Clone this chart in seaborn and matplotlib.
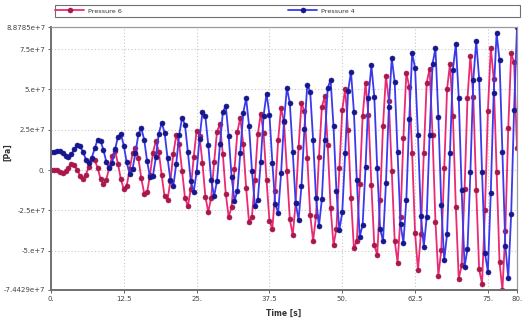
import matplotlib
matplotlib.use("Agg")
import matplotlib.pyplot as plt
from matplotlib.patches import Rectangle
import seaborn as sns
import pandas as pd

# ---- data (values in units of 1e7 Pa), sampled every 0.5 s from 0 to 80 s ----
time_s = [i * 0.5 for i in range(161)]

pressure6 = [
    0.00, 0.03, -0.02, -0.13, -0.18, -0.08, 0.15, 0.36, 0.30, 0.02,
    -0.37, -0.53, -0.29, 0.22, 0.70, 0.63, 0.14, -0.53, -0.87, -0.59,
    0.17, 0.88, 1.20, 0.38, -0.58, -1.19, -0.97, 0.05, 1.04, 1.39,
    0.73, -0.51, -1.46, -1.39, -0.29, 1.09, 1.80, 1.15, -0.32, -1.64,
    -1.85, -0.68, 1.02, 2.15, 1.63, -0.04, -1.71, -2.25, -1.16, 0.81,
    2.45, 2.14, 0.44, -1.65, -2.60, -1.72, 0.47, 2.39, 2.85, 0.98,
    -1.46, -2.91, -2.30, 0.08, 2.38, 3.25, 1.60, -1.11, -3.25, -2.90,
    -0.59, 2.21, 3.50, 2.28, -0.62, -3.15, -3.65, -1.28, 1.89, 3.85,
    2.97, -0.06, -3.05, -4.05, -2.04, 1.41, 4.15, 3.65, 0.74, -2.78,
    -4.40, -2.84, 0.78, 3.91, 4.60, 1.58, -2.33, -4.65, -3.64, 0.10,
    3.72, 5.05, 2.47, -1.71, -4.85, -4.41, -0.89, 3.34, 5.40, 3.40,
    -0.93, -4.66, -5.25, -1.87, 2.76, 5.85, 4.31, -0.08, -4.38, -5.75,
    -2.91, 2.01, 6.05, 5.17, 1.05, -3.90, -6.20, -3.96, 1.08, 5.42,
    6.30, 2.17, -3.20, -6.55, -4.98, 0.12, 5.05, 6.60, 3.35, -2.31,
    -6.75, -5.92, -1.20, 4.46, 7.10, 4.52, -1.23, -6.17, -7.05, -2.47,
    3.64, 7.60, 5.65, -0.10, -5.72, -7.4429, -3.78, 2.60, 7.25, 6.68,
    1.35,
]

pressure4 = [
    1.10, 1.13, 1.20, 1.19, 1.07, 0.89, 0.83, 0.98, 1.29, 1.53,
    1.47, 1.12, 0.65, 0.46, 0.76, 1.35, 1.88, 1.81, 1.25, 0.51,
    0.10, 0.45, 1.29, 2.07, 2.25, 1.51, 0.47, -0.22, 0.06, 1.08,
    2.21, 2.60, 1.88, 0.55, -0.45, -0.37, 0.80, 2.25, 2.94, 2.32,
    0.76, -0.62, -1.00, 0.39, 2.17, 3.25, 2.81, 1.12, -0.68, -1.35,
    -0.11, 1.95, 3.60, 3.33, 1.56, -0.62, -1.62, -0.68, 1.59, 3.58,
    4.00, 2.11, -0.40, -1.91, -1.28, 1.08, 3.55, 4.45, 2.75, -0.04,
    -2.20, -1.88, 0.49, 3.38, 4.75, 3.44, 0.46, -2.13, -2.65, -0.21,
    3.04, 5.10, 4.15, 1.14, -2.02, -3.10, -0.99, 2.54, 5.30, 4.84,
    1.86, -1.74, -3.50, -1.80, 1.89, 5.09, 5.60, 2.71, -1.28, -3.75,
    -2.62, 1.06, 4.89, 6.10, 3.62, -0.64, -4.15, -3.39, 0.19, 4.50,
    6.50, 4.56, 0.15, -3.65, -4.40, -0.81, 3.91, 6.95, 5.48, 1.13,
    -3.36, -4.50, -1.86, 3.14, 7.25, 6.35, 2.16, -2.86, -4.75, -2.92,
    2.20, 6.60, 7.55, 3.31, -2.15, -5.60, -3.95, 1.07, 6.23, 7.85,
    4.50, -1.24, -6.00, -4.91, -0.12, 5.62, 8.00, 5.68, -0.15, -5.16,
    -6.30, -1.40, 4.79, 8.50, 6.82, 1.15, -4.70, -6.70, -2.73, 3.74,
    8.8785,
]

series_names = ["Pressure 6", "Pressure 4"]
line_colors = ["#ea2a73", "#3a3aec"]
marker_colors = ["#a8184c", "#16168e"]

x_ticks = [0, 12.5, 25, 37.5, 50, 62.5, 75, 80]
x_tick_labels = ["0.", "12.5", "25.", "37.5", "50.", "62.5", "75.", "80."]
y_ticks = [-7.4429e7, -5e7, -2.5e7, 0, 2.5e7, 5e7, 7.5e7, 8.8785e7]
y_tick_labels = ["-7.4429e+7", "-5.e+7", "-2.5e+7", "0.", "2.5e+7", "5.e+7",
                 "7.5e+7", "8.8785e+7"]
x_label = "Time [s]"
y_label = "[Pa]"

SCALE = 1e7

df = pd.concat([
    pd.DataFrame({"t": time_s, "p": [v * SCALE for v in pressure6], "s": series_names[0]}),
    pd.DataFrame({"t": time_s, "p": [v * SCALE for v in pressure4], "s": series_names[1]}),
], ignore_index=True)

sns.set_theme(style="white")
plt.rcParams["font.family"] = ["DejaVu Sans"]

W, H = 530, 323
fig = plt.figure(figsize=(W / 100, H / 100), dpi=100)
ax = fig.add_axes([51 / W, 1 - 290 / H, 466 / W, 263 / H])

handles = []
for name, lc, mc in zip(series_names, line_colors, marker_colors):
    sub = df[df["s"] == name]
    sns.lineplot(data=sub, x="t", y="p", ax=ax, color=lc, linewidth=1.3,
                 marker="o", markersize=3.6, markerfacecolor=mc,
                 markeredgecolor=mc, markeredgewidth=0.4, legend=False,
                 sort=False, estimator=None)
    handles.append(ax.lines[-1])

ax.set_xlim(0, 80)
ax.set_ylim(-7.4429e7, 8.8785e7)
ax.set_xticks(x_ticks)
ax.set_xticklabels(x_tick_labels)
ax.set_yticks(y_ticks)
ax.set_yticklabels(y_tick_labels)
ax.tick_params(axis="both", labelsize=5.0, colors="#444444", length=2, width=0.6,
               pad=2, left=True, bottom=True)
ax.set_xlabel(x_label, fontsize=5.5, fontweight="bold", color="#333333", labelpad=5)
ax.set_ylabel(y_label, fontsize=5.5, fontweight="bold", color="#333333")
ax.yaxis.set_label_coords(-0.083, 0.525)

ax.grid(True, which="major", linestyle=(0, (1, 2)), color="#c8c8c8", linewidth=0.8)

for side in ["left", "bottom"]:
    ax.spines[side].set_color("#707070")
    ax.spines[side].set_linewidth(1.4)
for side in ["top", "right"]:
    ax.spines[side].set_color("#9a9a9a")
    ax.spines[side].set_linewidth(0.9)

# legend frame spanning the top of the figure
fig.patches.append(Rectangle((55 / W, 1 - 16.5 / H), 465 / W, 11.5 / H,
                             transform=fig.transFigure, fill=False,
                             edgecolor="#707070", linewidth=0.8))
legend_x = [55, 288]  # left edge of each entry, in pixels
for h, name, lx in zip(handles, series_names, legend_x):
    leg = fig.legend([h], [name], loc="center left",
                     bbox_to_anchor=(lx / W, 1 - 10.8 / H), fontsize=4.6,
                     frameon=False, handlelength=4.6, handletextpad=0.6,
                     borderpad=0.0, borderaxespad=0, numpoints=1)
    for t in leg.get_texts():
        t.set_color("#333333")

fig.savefig("out.png", dpi=100)
